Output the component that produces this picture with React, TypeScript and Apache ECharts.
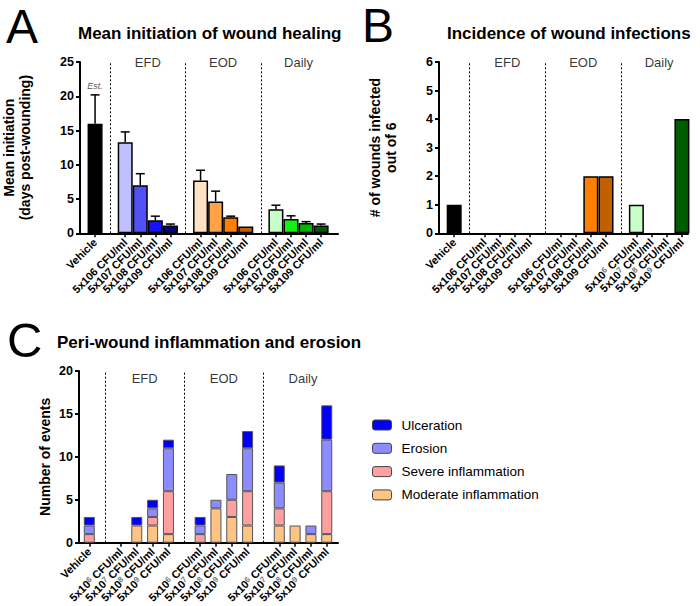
import React, { useEffect, useRef } from 'react';
import * as echarts from 'echarts';

const FONT = "'Liberation Sans', Arial, Helvetica, sans-serif";

// ---------- Panel A: mean initiation of wound healing ----------
const categoriesA = [
  'Vehicle', '',
  '5x106 CFU/ml', '5x107 CFU/ml', '5x108 CFU/ml', '5x109 CFU/ml', '',
  '5x106 CFU/ml', '5x107 CFU/ml', '5x108 CFU/ml', '5x109 CFU/ml', '',
  '5x106 CFU/ml', '5x107 CFU/ml', '5x108 CFU/ml', '5x109 CFU/ml',
];
const meanInitiation = [16.0, null, 13.3, 7.0, 1.9, 1.15, null, 7.7, 4.65, 2.35, 1.0, null, 3.5, 2.1, 1.5, 1.15];
const meanInitiationErr = [4.2, null, 1.5, 1.7, 0.6, 0.2, null, 1.5, 1.5, 0.15, 0, null, 0.6, 0.45, 0.2, 0.2];

// ---------- Panel B: incidence of wound infections ----------
const categoriesB = [
  'Vehicle', '',
  '5x106 CFU/ml', '5x107 CFU/ml', '5x108 CFU/ml', '5x109 CFU/ml', '',
  '5x106 CFU/ml', '5x107 CFU/ml', '5x108 CFU/ml', '5x109 CFU/ml', '',
  '5x10^6 CFU/ml', '5x10^7 CFU/ml', '5x10^8 CFU/ml', '5x10^9 CFU/ml',
];
const woundsInfected = [1, null, 0, 0, 0, 0, null, 0, 0, 2, 2, null, 1, 0, 0, 4];

// ---------- Panel C: peri-wound inflammation and erosion ----------
const categoriesC = [
  'Vehicle', '',
  '5x10^6 CFU/ml', '5x10^7 CFU/ml', '5x10^8 CFU/ml', '5x10^9 CFU/ml', '',
  '5x10^6 CFU/ml', '5x10^7 CFU/ml', '5x10^8 CFU/ml', '5x10^9 CFU/ml', '',
  '5x10^6 CFU/ml', '5x10^7 CFU/ml', '5x10^8 CFU/ml', '5x10^9 CFU/ml',
];
const moderateInflammation = [0, null, 0, 2, 2, 1, null, 0, 4, 3, 2, null, 2, 2, 1, 1];
const severeInflammation = [1, null, 0, 0, 1, 5, null, 1, 0, 2, 4, null, 2, 0, 0, 5];
const erosionEvents = [1, null, 0, 0, 1, 5, null, 1, 1, 3, 5, null, 3, 0, 1, 6];
const ulcerationEvents = [1, null, 0, 1, 1, 1, null, 1, 0, 0, 2, null, 2, 0, 0, 4];

const groupNames = ['EFD', 'EOD', 'Daily'];
const legendOrder = ['Ulceration', 'Erosion', 'Severe inflammation', 'Moderate inflammation'];

// styles
const barColors = [
  '#000000', null,
  '#c0c0ff', '#5050f5', '#1414f5', '#00008c', null,
  '#ffe2c4', '#ffa346', '#ff8000', '#c06000', null,
  '#c8ffc8', '#14f014', '#00b400', '#005c00',
];
const stackColors: Record<string, string> = {
  'Moderate inflammation': '#ffc483',
  'Severe inflammation': '#ffa0a0',
  'Erosion': '#8c8cff',
  'Ulceration': '#0000f5',
};

const fmtLabel = (s: string) => (s || '').replace(/\^(\d)/, '{s|$1}');

function separators(cats: string[]) {
  return cats.map((c, i) => (c === '' ? i : -1)).filter((i) => i >= 0);
}

function sepMarkLine(cats: string[]) {
  return {
    silent: true,
    symbol: ['none', 'none'],
    label: { show: false },
    emphasis: { disabled: true },
    lineStyle: { color: '#000', width: 1, type: [2, 2] },
    data: separators(cats).map((i) => ({ xAxis: i })),
  };
}

function groupLabelSeries(cats: string[], axisIdx: number, yVal: number) {
  const seps = separators(cats);
  const data = groupNames.map((g, k) => {
    const a = seps[k];
    const b = k + 1 < seps.length ? seps[k + 1] : cats.length;
    return [(a + b) / 2, yVal, g];
  });
  return {
    type: 'scatter',
    xAxisIndex: axisIdx,
    yAxisIndex: axisIdx,
    symbolSize: 1,
    itemStyle: { color: 'rgba(0,0,0,0)' },
    silent: true,
    data,
    label: {
      show: true,
      position: 'inside',
      formatter: (p: any) => p.data[2],
      fontSize: 13,
      fontFamily: FONT,
      color: '#000',
    },
    z: 5,
  };
}

function xAxisFor(gridIndex: number, cats: string[], min: number, max: number) {
  const idx = cats.map((c, i) => (c ? i : -1)).filter((i) => i >= 0);
  return {
    type: 'value',
    gridIndex,
    min,
    max,
    splitLine: { show: false },
    axisLine: { show: true, onZero: false, lineStyle: { color: '#000', width: 2 } },
    axisTick: { show: true, customValues: idx, length: 4, lineStyle: { color: '#000', width: 1.5 } },
    axisLabel: {
      // the axis ends carry empty labels so that no category label is treated as min/max
      customValues: [min, ...idx, max],
      rotate: 45,
      margin: 7,
      hideOverlap: false,
      formatter: (v: number) => {
        const k = Math.round(v);
        return Math.abs(v - k) < 1e-6 && k >= 0 && k < cats.length ? fmtLabel(cats[k]) : '';
      },
      fontSize: 11,
      fontWeight: 'bold',
      fontFamily: FONT,
      color: '#000',
      rich: {
        s: { fontSize: 8, color: '#777', verticalAlign: 'top', fontFamily: FONT },
      },
    },
  };
}

function yAxisFor(gridIndex: number, max: number, interval: number, name: string, nameGap: number) {
  return {
    type: 'value',
    gridIndex,
    min: 0,
    max,
    interval,
    splitLine: { show: false },
    axisLine: { show: true, onZero: false, lineStyle: { color: '#000', width: 2 } },
    axisTick: { show: true, length: 4, lineStyle: { color: '#000', width: 2 } },
    axisLabel: { fontSize: 12.5, fontWeight: 'bold', fontFamily: FONT, color: '#000', margin: 6 },
    name,
    nameLocation: 'middle',
    nameGap,
    nameTextStyle: { fontSize: 14, fontWeight: 'bold', fontFamily: FONT, color: '#000', lineHeight: 16 },
  };
}

function simpleBars(cats: string[], vals: (number | null)[], axisIdx: number, width: number) {
  return {
    type: 'bar',
    xAxisIndex: axisIdx,
    yAxisIndex: axisIdx,
    barWidth: width,
    itemStyle: { borderColor: '#000', borderWidth: 1.5 },
    data: cats
      .map((c, i) => (c ? { value: [i, vals[i] ? vals[i] : '-'], itemStyle: { color: barColors[i] } } : null))
      .filter(Boolean),
    markLine: sepMarkLine(cats),
    z: 2,
  };
}

function stackSeries(name: string, vals: (number | null)[]) {
  // value first, category index second, so the stacked dimension is the count
  return {
    type: 'bar',
    name,
    stack: 'events',
    xAxisIndex: 2,
    yAxisIndex: 2,
    barWidth: 11,
    encode: { x: 1, y: 0 },
    itemStyle: { color: stackColors[name], borderColor: '#555', borderWidth: 1 },
    data: categoriesC
      .map((c, i) => (c ? [vals[i] ? vals[i] : '-', i] : null))
      .filter(Boolean),
    z: 2,
  };
}

export default function App() {
  const ref = useRef<HTMLDivElement>(null);

  useEffect(() => {
    if (!ref.current) return;
    const chart = echarts.init(ref.current, undefined, { renderer: 'svg' });

    const errData = categoriesA
      .map((c, i) => (c && meanInitiationErr[i] ? [i, meanInitiation[i], meanInitiationErr[i]] : null))
      .filter(Boolean);

    const option: any = {
      animation: false,
      backgroundColor: '#fff',
      textStyle: { fontFamily: FONT },
      title: [
        { text: 'Mean initiation of wound healing', left: 78, top: 25, padding: 0,
          textStyle: { fontSize: 17, fontWeight: 'bold', fontFamily: FONT, color: '#000' } },
        { text: 'Incidence of wound infections', left: 447, top: 25, padding: 0,
          textStyle: { fontSize: 17, fontWeight: 'bold', fontFamily: FONT, color: '#000' } },
        { text: 'Peri-wound inflammation and erosion', left: 57, top: 334, padding: 0,
          textStyle: { fontSize: 17, fontWeight: 'bold', fontFamily: FONT, color: '#000' } },
      ],
      graphic: [
        { type: 'text', x: 6, y: 26, style: { text: 'A', fontSize: 48, fontFamily: FONT, fill: '#000', verticalAlign: 'middle' } },
        { type: 'text', x: 362, y: 25, style: { text: 'B', fontSize: 48, fontFamily: FONT, fill: '#000', verticalAlign: 'middle' } },
        { type: 'text', x: 7, y: 340, style: { text: 'C', fontSize: 49, fontFamily: FONT, fill: '#000', verticalAlign: 'middle' } },
      ],
      legend: {
        orient: 'vertical',
        left: 372,
        top: 418,
        padding: 0,
        itemWidth: 19,
        itemHeight: 10,
        itemGap: 9.3,
        data: legendOrder,
        textStyle: { fontSize: 13.5, fontFamily: FONT, color: '#000', padding: [0, 0, 0, 5] },
        itemStyle: { borderColor: '#444', borderWidth: 1 },
        selectedMode: false,
      },
      grid: [
        { left: 79, top: 62, width: 259, height: 171.3 },
        { left: 439, top: 62, width: 249, height: 171.3 },
        { left: 79, top: 371, width: 259, height: 171.7 },
      ],
      xAxis: [
        xAxisFor(0, categoriesA, -1, 16.12),
        xAxisFor(1, categoriesB, -1, 15.4),
        xAxisFor(2, categoriesC, -0.65, 15.71),
      ],
      yAxis: [
        yAxisFor(0, 25, 5, 'Mean initiation\n(days post-wounding)', 47),
        yAxisFor(1, 6, 1, '# of wounds infected\nout of 6', 40),
        yAxisFor(2, 20, 5, 'Number of events', 26),
      ],
      series: [
        simpleBars(categoriesA, meanInitiation, 0, 15),
        {
          type: 'custom',
          xAxisIndex: 0,
          yAxisIndex: 0,
          z: 4,
          silent: true,
          data: errData,
          renderItem: (_p: any, api: any) => {
            const x = api.value(0);
            const m = api.value(1);
            const e = api.value(2);
            const p0 = api.coord([x, m]);
            const p1 = api.coord([x, m + e]);
            return {
              type: 'group',
              children: [
                { type: 'line', shape: { x1: p0[0], y1: p0[1], x2: p1[0], y2: p1[1] }, style: { stroke: '#000', lineWidth: 1.5 } },
                { type: 'line', shape: { x1: p1[0] - 4.5, y1: p1[1], x2: p1[0] + 4.5, y2: p1[1] }, style: { stroke: '#000', lineWidth: 1.5 } },
              ],
            };
          },
        },
        {
          type: 'scatter',
          xAxisIndex: 0,
          yAxisIndex: 0,
          symbolSize: 1,
          silent: true,
          itemStyle: { color: 'rgba(0,0,0,0)' },
          data: [[0, (meanInitiation[0] as number) + (meanInitiationErr[0] as number)]],
          label: { show: true, position: 'top', distance: 4, formatter: 'Est.', fontSize: 9, fontStyle: 'italic', fontFamily: FONT, color: '#222' },
        },
        groupLabelSeries(categoriesA, 0, 25),
        simpleBars(categoriesB, woundsInfected, 1, 15),
        groupLabelSeries(categoriesB, 1, 6),
        stackSeries('Moderate inflammation', moderateInflammation),
        stackSeries('Severe inflammation', severeInflammation),
        stackSeries('Erosion', erosionEvents),
        { ...stackSeries('Ulceration', ulcerationEvents), markLine: sepMarkLine(categoriesC) },
        groupLabelSeries(categoriesC, 2, 19.1),
      ],
    };

    chart.setOption(option);
    return () => chart.dispose();
  }, []);

  return <div ref={ref} style={{ position: 'absolute', left: 0, top: 0, width: 700, height: 606 }} />;
}
